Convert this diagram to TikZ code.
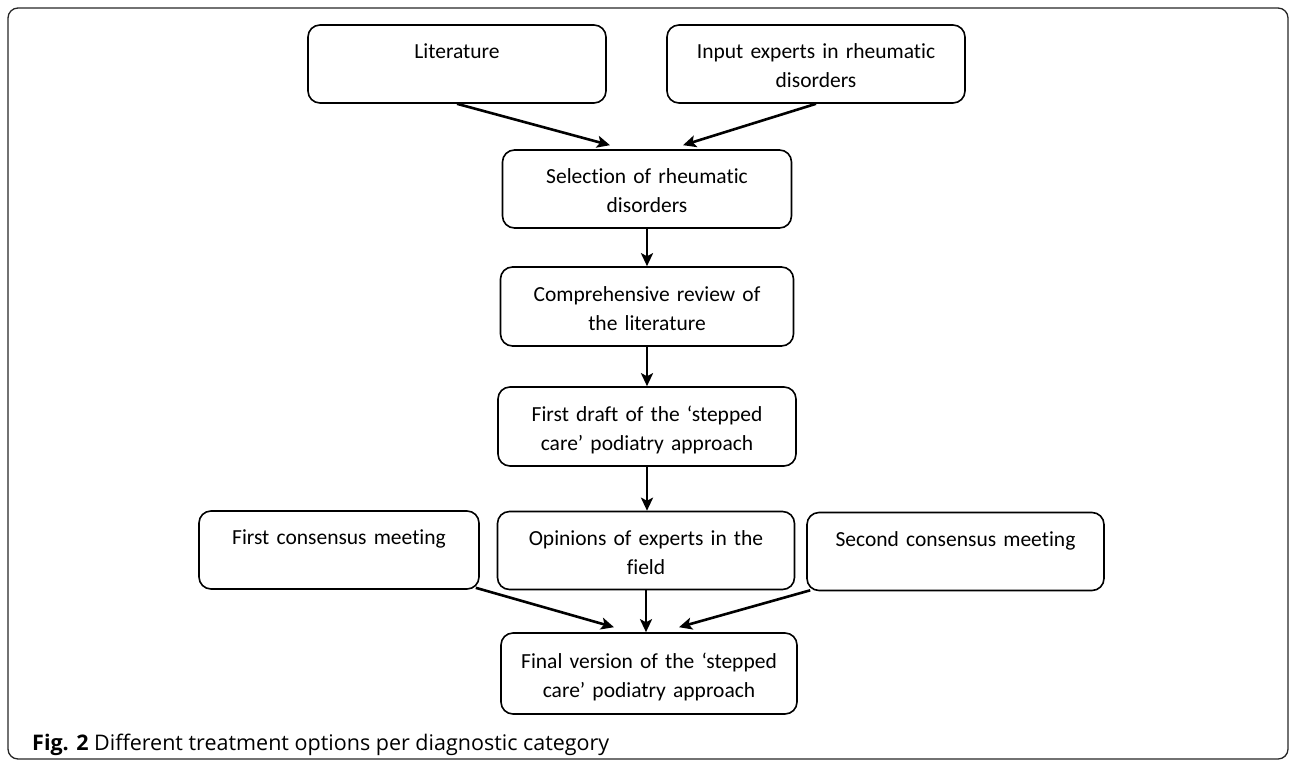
\documentclass[tikz,border=0pt]{standalone}
\usepackage{fontspec}
\setmainfont{Carlito}[Ligatures=NoCommon]
\newfontfamily\capfont{Open Sans}
\usetikzlibrary{arrows.meta}

\begin{document}
\begin{tikzpicture}[x=1pt, y=-1pt,
		stage/.style={draw, line width=1.6pt, rounded corners=12pt, align=center,
			text width=#1, minimum height=78pt, inner sep=0pt,
			font=\fontsize{21.5}{29}\selectfont,
			execute at begin node={\rule{0pt}{24pt}},
			execute at end node={\rule[-6pt]{0pt}{0pt}}},
		stage/.default=297pt,
		flow/.style={line width=2.6pt, -{Stealth[length=13pt, width=12pt, inset=3pt]}}]
		\useasboundingbox (0,0) rectangle (1290,761);
		\draw[line width=1.3pt, rounded corners=10pt, black!85] (8,8) rectangle (1288,759);

		% sources
		\node[stage=298pt] (lit) at (457,64) {Literature\\\mbox{}};
		\node[stage=298pt] (inp) at (816,64) {Input experts in rheumatic\\disorders};

		% main column
		\node[stage=289pt] (sel) at (647,189) {Selection of rheumatic\\disorders};
		\node[stage=293pt, minimum height=79pt] (rev) at (647,306.5) {Comprehensive review of\\the literature};
		\node[stage=298pt, minimum height=79pt] (draft) at (647,426.5) {First draft of the ‘stepped\\care’ podiatry approach};

		% meetings
		\node[stage=280pt] (first) at (339,550) {First consensus meeting\\\mbox{}};
		\node[stage] (opin) at (646,550.5) {Opinions of experts in the\\field};
		\node[stage] (second) at (955.5,551.5) {Second consensus meeting\\\mbox{}};
		\node[stage=296pt, minimum height=81pt] (final) at (649,673.5) {Final version of the ‘stepped\\care’ podiatry approach};

		\draw[flow] (lit.south) -- ([xshift=-37pt, yshift=4pt]sel.north);
		\draw[flow] (inp.south) -- ([xshift=36pt, yshift=4pt]sel.north);
		\draw[flow] (sel.south) -- (rev.north);
		\draw[flow] (rev.south) -- (draft.north);
		\draw[flow] (draft.south) -- (draft.south |- opin.north);
		\draw[flow] ([xshift=-4pt, yshift=2pt]first.south east) -- ([xshift=-35pt, yshift=5pt]final.north);
		\draw[flow] (opin.south) -- (opin.south |- final.north);
		\draw[flow] ([xshift=4pt, yshift=1pt]second.south west) -- ([xshift=30pt, yshift=5pt]final.north);

		\node[anchor=west, inner sep=0pt, font=\capfont\fontsize{21.5}{23}\selectfont] (cap) at (32,745)
			{\textbf{Fig. 2} Different treatment options per diagnostic category};
	\end{tikzpicture}
\end{document}
